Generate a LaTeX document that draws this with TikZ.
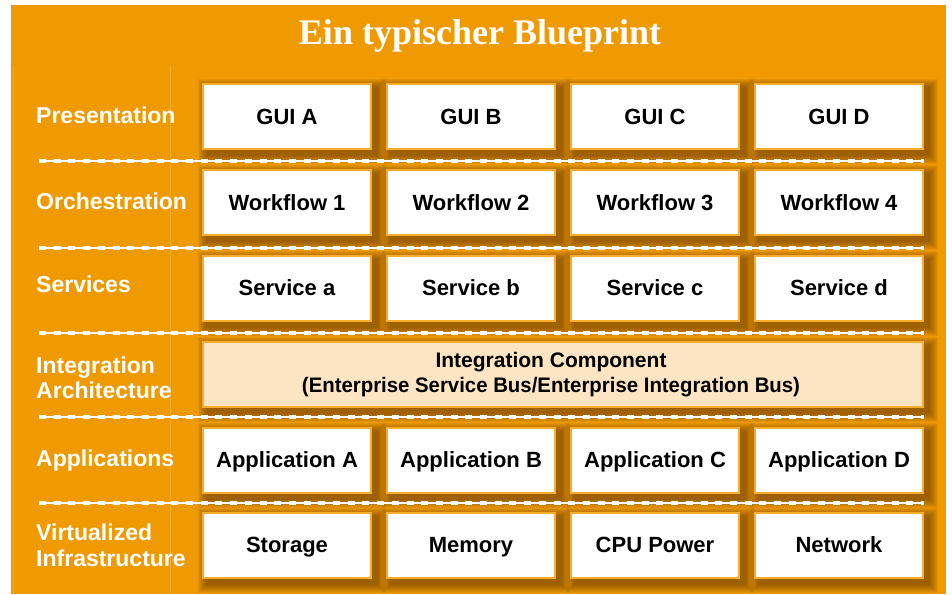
\documentclass[tikz,border=0pt]{standalone}
\usepackage{fontspec}
\setmainfont{Liberation Serif}
\newfontfamily\lsans{Liberation Sans}
\usetikzlibrary{backgrounds,calc}
\definecolor{bgor}{HTML}{EE9A00}
\definecolor{edgeor}{HTML}{F7AE2E}
\definecolor{shad}{HTML}{5C3300}
\definecolor{peach}{HTML}{FDE5C3}
\begin{document}
\begin{tikzpicture}[x=1pt,y=-1pt,
  cellbase/.style={draw=edgeor, line width=2pt, fill=white, minimum width=168pt,
    minimum height=65pt, inner sep=0pt, align=center, text=black},
  cell/.style={cellbase, text height=15.8pt, text depth=0pt,
    font=\lsans\bfseries\fontsize{22}{25}\selectfont},
  rowlabel/.style={anchor=base west, inner sep=0pt, text=white,
    font=\lsans\bfseries\fontsize{23}{25}\selectfont},
  septhin/.style={white, line width=1.2pt},
  sepdash/.style={white, line width=4.5pt, dash pattern=on 7pt off 7.7pt},
  faint/.style={white, opacity=0.18, line width=0.6pt}]
\useasboundingbox (0,0) rectangle (952,594);

% title
\node[anchor=base, text=white, inner sep=0pt,
  font=\bfseries\fontsize{36}{40}\selectfont] (title) at (480,45) {Ein typischer Blueprint};

% row labels
\node[rowlabel] (l1) at (36,123) {Presentation};
\node[rowlabel] (l2) at (36,209) {Orchestration};
\node[rowlabel] (l3) at (36,292) {Services};
\node[rowlabel] (l4a) at (36,373) {Integration};
\node[rowlabel] (l4b) at (36,398) {Architecture};
\node[rowlabel] (l5) at (36,466) {Applications};
\node[rowlabel] (l6a) at (36,540) {Virtualized};
\node[rowlabel] (l6b) at (36,566) {Infrastructure};

% boxes
\node[cell] (g1) at (287,116.5) {GUI A};
\node[cell] (g2) at (471,116.5) {GUI B};
\node[cell] (g3) at (655,116.5) {GUI C};
\node[cell] (g4) at (839,116.5) {GUI D};

\node[cell] (w1) at (287,202.5) {Workflow 1};
\node[cell] (w2) at (471,202.5) {Workflow 2};
\node[cell] (w3) at (655,202.5) {Workflow 3};
\node[cell] (w4) at (839,202.5) {Workflow 4};

\node[cell] (s1) at (287,288) {Service a};
\node[cell] (s2) at (471,288) {Service b};
\node[cell] (s3) at (655,288) {Service c};
\node[cell] (s4) at (839,288) {Service d};

\node[cellbase, fill=peach, minimum width=720pt,
  font=\lsans\bfseries\fontsize{21}{25}\selectfont] (ic) at (563,374.5)
  {Integration Component\hspace*{24pt}\\\scalebox{0.97}[1]{(Enterprise Service Bus/Enterprise Integration Bus)}\hspace*{24pt}};

\node[cell] (a1) at (287,460) {Application A};
\node[cell] (a2) at (471,460) {Application B};
\node[cell] (a3) at (655,460) {Application C};
\node[cell] (a4) at (839,460) {Application D};

\node[cell] (i1) at (287,545) {Storage};
\node[cell] (i2) at (471,545) {Memory};
\node[cell] (i3) at (655,545) {CPU Power};
\node[cell] (i4) at (839,545) {Network};

% separators
\foreach \yy in {161,248,333,417,503} {
  \draw[septhin] (39,\yy) -- (924,\yy);
  \draw[sepdash] (39,\yy) -- (924,\yy);
}

\begin{scope}[on background layer]
  \fill[white] (0,0) rectangle (952,594);
  \fill[bgor] (11,5) rectangle (946,594);
  \draw[faint] (13,66) -- (13,594);
  \draw[faint] (170,66) -- (170,594);
  \foreach \n in {g1,g2,g3,g4,w1,w2,w3,w4,s1,s2,s3,s4,ic,a1,a2,a3,a4,i1,i2,i3,i4} {
    \foreach \e in {1,...,9} {
      \fill[shad, opacity=0.08] ($(\n.north west)+(5-\e,5-\e)$) rectangle ($(\n.south east)+(5+\e,5+\e)$);
    }
  }
\end{scope}
\end{tikzpicture}
\end{document}
